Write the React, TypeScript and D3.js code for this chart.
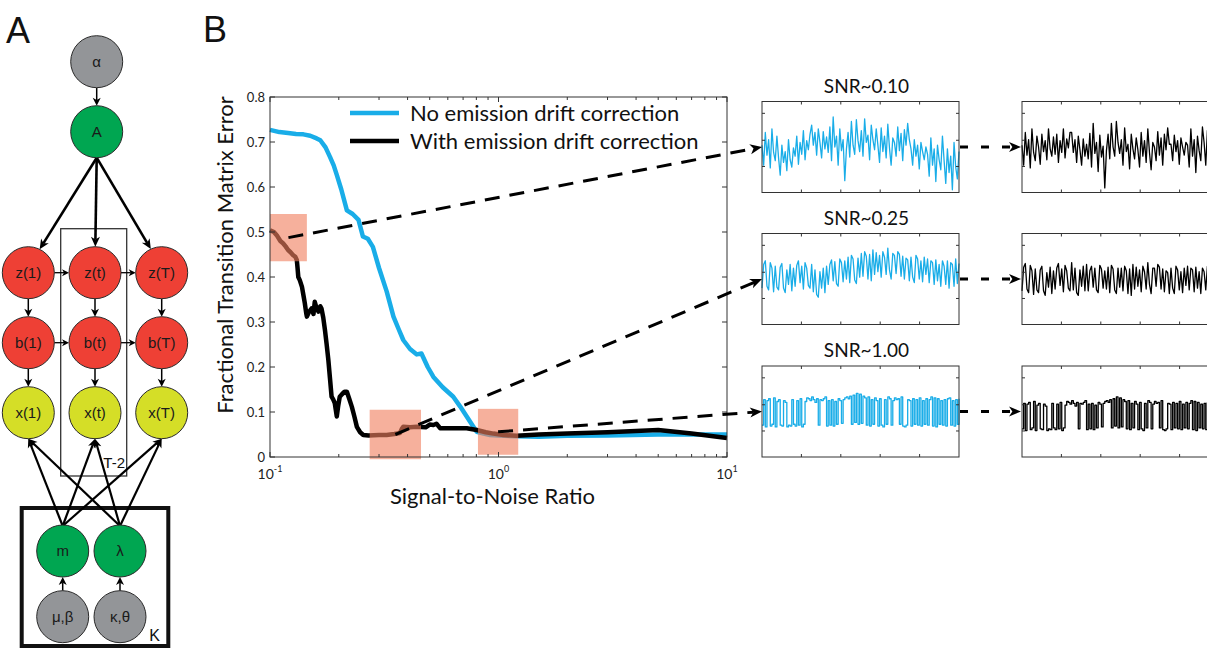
import React from 'react';
import * as d3 from 'd3';

// ---------- Panel B main chart data ----------
const blueSnr = [0.1, 0.11, 0.12, 0.13, 0.14, 0.15, 0.16, 0.166, 0.175, 0.183, 0.19, 0.196, 0.205, 0.217, 0.23, 0.244, 0.255, 0.268, 0.282, 0.3, 0.324, 0.347, 0.365, 0.383, 0.41, 0.439, 0.46, 0.49, 0.519, 0.57, 0.634, 0.68, 0.726, 0.77, 0.803, 0.86, 0.918, 1.0, 1.2, 1.5, 2.0, 3.0, 5.0, 7.0, 10];
const blueErr = [0.727, 0.722, 0.72, 0.718, 0.717, 0.714, 0.708, 0.704, 0.688, 0.667, 0.648, 0.627, 0.595, 0.548, 0.54, 0.527, 0.49, 0.485, 0.467, 0.42, 0.368, 0.312, 0.285, 0.26, 0.24, 0.228, 0.23, 0.2, 0.178, 0.155, 0.134, 0.112, 0.09, 0.07, 0.056, 0.052, 0.049, 0.048, 0.046, 0.045, 0.047, 0.048, 0.05, 0.05, 0.05];

const blackSnr = [0.1, 0.104, 0.107, 0.111, 0.114, 0.117, 0.12, 0.123, 0.126, 0.129, 0.131, 0.132, 0.133, 0.135, 0.138, 0.14, 0.142, 0.144, 0.145, 0.148, 0.152, 0.155, 0.157, 0.16, 0.163, 0.166, 0.168, 0.171, 0.174, 0.177, 0.18, 0.183, 0.186, 0.189, 0.192, 0.194, 0.196, 0.199, 0.202, 0.207, 0.212, 0.217, 0.222, 0.228, 0.234, 0.24, 0.248, 0.256, 0.27, 0.3, 0.324, 0.35, 0.37, 0.377, 0.383, 0.41, 0.439, 0.48, 0.5, 0.519, 0.535, 0.555, 0.65, 0.726, 0.803, 0.88, 0.95, 1.05, 1.2, 1.5, 2.0, 3.0, 5.0, 7.0, 10];
const blackErr = [0.504, 0.5, 0.493, 0.48, 0.475, 0.468, 0.46, 0.455, 0.449, 0.445, 0.438, 0.42, 0.4, 0.393, 0.378, 0.36, 0.342, 0.32, 0.312, 0.322, 0.33, 0.318, 0.345, 0.33, 0.323, 0.335, 0.33, 0.31, 0.282, 0.25, 0.216, 0.175, 0.134, 0.128, 0.12, 0.105, 0.09, 0.115, 0.134, 0.14, 0.145, 0.145, 0.13, 0.112, 0.09, 0.067, 0.055, 0.049, 0.048, 0.049, 0.049, 0.051, 0.053, 0.062, 0.067, 0.066, 0.067, 0.066, 0.072, 0.071, 0.074, 0.064, 0.064, 0.064, 0.06, 0.055, 0.052, 0.049, 0.047, 0.05, 0.052, 0.055, 0.06, 0.052, 0.042];

const yTicks = [0, 0.1, 0.2, 0.3, 0.4, 0.5, 0.6, 0.7, 0.8];
const xMajor = [0.1, 1, 10];
const xMajorExp = ['-1', '0', '1'];
const xMinor = [0.2, 0.3, 0.4, 0.5, 0.6, 0.7, 0.8, 0.9, 2, 3, 4, 5, 6, 7, 8, 9];

// highlighted SNR windows: [snrLo, snrHi, errLo, errHi]
const boxSnrLo = [0.1, 0.273, 0.813];
const boxSnrHi = [0.145, 0.458, 1.22];
const boxErrLo = [0.435, -0.005, 0.005];
const boxErrHi = [0.54, 0.105, 0.107];

const snrTitles = ['SNR~0.10', 'SNR~0.25', 'SNR~1.00'];
const legendLabels = ['No emission drift correction', 'With emission drift correction'];

// ---------- example traces (fraction of panel height) ----------
const trace1Raw = [
  0.52, 0.30, 0.66, 0.41, 0.58, 0.27, 0.70, 0.44, 0.35, 0.62,
  0.38, 0.19, 0.52, 0.33, 0.45, 0.24, 0.58, 0.36, 0.28, 0.49,
  0.40, 0.62, 0.31, 0.55, 0.42, 0.68, 0.36, 0.57, 0.47, 0.64,
  0.74, 0.52, 0.66, 0.41, 0.70, 0.55, 0.38, 0.67, 0.48, 0.61,
  0.44, 0.72, 0.35, 0.83, 0.50, 0.62, 0.30, 0.70, 0.46, 0.58,
  0.13, 0.48, 0.66, 0.39, 0.78, 0.52, 0.42, 0.80, 0.57, 0.45,
  0.68, 0.40, 0.81, 0.55, 0.63, 0.36, 0.74, 0.58, 0.47, 0.70,
  0.52, 0.33, 0.71, 0.45, 0.62, 0.38, 0.75, 0.49, 0.30, 0.60,
  0.55, 0.40, 0.72, 0.46, 0.65, 0.35, 0.69, 0.52, 0.76, 0.58,
  0.48, 0.30, 0.58, 0.40, 0.52, 0.26, 0.55, 0.45, 0.36, 0.50,
  0.42, 0.18, 0.60, 0.30, 0.48, 0.12, 0.52, 0.36, 0.25, 0.62,
  0.35, 0.10, 0.48, 0.22, 0.40, 0.03, 0.55, 0.28, 0.15, 0.45,
];
const trace1Fix = [
  0.52, 0.30, 0.66, 0.41, 0.58, 0.27, 0.70, 0.44, 0.35, 0.62,
  0.50, 0.31, 0.64, 0.45, 0.57, 0.36, 0.70, 0.48, 0.40, 0.61,
  0.42, 0.64, 0.33, 0.57, 0.44, 0.70, 0.38, 0.59, 0.49, 0.66,
  0.66, 0.44, 0.58, 0.33, 0.62, 0.47, 0.30, 0.59, 0.40, 0.53,
  0.37, 0.65, 0.28, 0.76, 0.43, 0.55, 0.23, 0.63, 0.39, 0.51,
  0.05, 0.46, 0.64, 0.37, 0.76, 0.50, 0.40, 0.78, 0.55, 0.43,
  0.58, 0.30, 0.71, 0.45, 0.53, 0.26, 0.64, 0.48, 0.37, 0.60,
  0.47, 0.28, 0.66, 0.40, 0.57, 0.33, 0.70, 0.44, 0.25, 0.55,
  0.50, 0.35, 0.67, 0.41, 0.60, 0.30, 0.64, 0.47, 0.71, 0.53,
  0.53, 0.35, 0.63, 0.45, 0.57, 0.31, 0.60, 0.50, 0.41, 0.55,
  0.52, 0.28, 0.70, 0.40, 0.58, 0.22, 0.62, 0.46, 0.35, 0.72,
  0.55, 0.30, 0.68, 0.42, 0.60, 0.23, 0.75, 0.48, 0.35, 0.65,
];
const trace2Raw = [
  0.40, 0.66, 0.70, 0.42, 0.38, 0.68, 0.62, 0.36, 0.64, 0.41,
  0.38, 0.63, 0.67, 0.40, 0.35, 0.60, 0.44, 0.66, 0.37, 0.62,
  0.42, 0.65, 0.70, 0.46, 0.64, 0.39, 0.68, 0.62, 0.43, 0.40,
  0.66, 0.36, 0.60, 0.33, 0.30, 0.58, 0.40, 0.62, 0.35, 0.64,
  0.44, 0.66, 0.71, 0.48, 0.69, 0.45, 0.42, 0.72, 0.68, 0.47,
  0.70, 0.50, 0.74, 0.46, 0.76, 0.72, 0.49, 0.45, 0.73, 0.52,
  0.78, 0.53, 0.80, 0.75, 0.50, 0.77, 0.48, 0.82, 0.55, 0.79,
  0.58, 0.76, 0.52, 0.80, 0.74, 0.55, 0.84, 0.60, 0.50, 0.78,
  0.76, 0.56, 0.80, 0.77, 0.53, 0.75, 0.50, 0.73, 0.71, 0.48,
  0.74, 0.52, 0.46, 0.76, 0.72, 0.50, 0.70, 0.47, 0.74, 0.55,
  0.72, 0.46, 0.70, 0.68, 0.44, 0.71, 0.48, 0.66, 0.42, 0.70,
  0.64, 0.44, 0.70, 0.40, 0.68, 0.66, 0.42, 0.72, 0.45, 0.67,
];
const trace2Fix = [
  0.37, 0.63, 0.67, 0.39, 0.35, 0.65, 0.59, 0.33, 0.61, 0.38,
  0.35, 0.60, 0.64, 0.37, 0.32, 0.57, 0.41, 0.63, 0.34, 0.59,
  0.39, 0.62, 0.67, 0.43, 0.61, 0.36, 0.65, 0.59, 0.40, 0.37,
  0.68, 0.38, 0.62, 0.35, 0.32, 0.60, 0.42, 0.64, 0.37, 0.66,
  0.37, 0.59, 0.64, 0.41, 0.62, 0.38, 0.35, 0.65, 0.61, 0.40,
  0.59, 0.39, 0.63, 0.35, 0.65, 0.61, 0.38, 0.34, 0.62, 0.41,
  0.62, 0.37, 0.64, 0.59, 0.34, 0.61, 0.32, 0.66, 0.39, 0.63,
  0.42, 0.60, 0.36, 0.64, 0.58, 0.39, 0.68, 0.44, 0.34, 0.62,
  0.62, 0.42, 0.66, 0.63, 0.39, 0.61, 0.36, 0.59, 0.57, 0.34,
  0.62, 0.40, 0.34, 0.64, 0.60, 0.38, 0.58, 0.35, 0.62, 0.43,
  0.64, 0.38, 0.62, 0.60, 0.36, 0.63, 0.40, 0.58, 0.34, 0.62,
  0.58, 0.38, 0.64, 0.34, 0.62, 0.60, 0.36, 0.66, 0.39, 0.61,
];
const trace3Raw = [
  0.35, 0.63, 0.33, 0.62, 0.64, 0.34, 0.36, 0.65, 0.33, 0.61,
  0.63, 0.35, 0.34, 0.62, 0.60, 0.33, 0.35, 0.34, 0.63, 0.36,
  0.34, 0.62, 0.35, 0.64, 0.33, 0.36, 0.61, 0.65, 0.64, 0.62,
  0.66, 0.63, 0.60, 0.64, 0.35, 0.63, 0.62, 0.64, 0.66, 0.34,
  0.62, 0.35, 0.63, 0.34, 0.61, 0.36, 0.64, 0.62, 0.37, 0.63,
  0.65, 0.66, 0.64, 0.67, 0.36, 0.68, 0.38, 0.70, 0.36, 0.69,
  0.37, 0.67, 0.65, 0.35, 0.66, 0.34, 0.63, 0.36, 0.65, 0.62,
  0.34, 0.64, 0.35, 0.33, 0.63, 0.36, 0.66, 0.64, 0.35, 0.62,
  0.65, 0.63, 0.64, 0.36, 0.66, 0.34, 0.33, 0.35, 0.63, 0.62,
  0.34, 0.64, 0.36, 0.63, 0.35, 0.65, 0.34, 0.62, 0.36, 0.64,
  0.35, 0.63, 0.66, 0.34, 0.65, 0.33, 0.64, 0.36, 0.62, 0.35,
  0.63, 0.34, 0.64, 0.65, 0.35, 0.62, 0.34, 0.63, 0.36, 0.64,
];
const trace3Fix = [
  0.31, 0.59, 0.29, 0.58, 0.60, 0.30, 0.32, 0.61, 0.29, 0.57,
  0.59, 0.31, 0.30, 0.58, 0.56, 0.29, 0.31, 0.30, 0.59, 0.32,
  0.30, 0.58, 0.31, 0.60, 0.29, 0.32, 0.57, 0.61, 0.60, 0.58,
  0.62, 0.59, 0.56, 0.60, 0.31, 0.59, 0.58, 0.60, 0.62, 0.30,
  0.58, 0.31, 0.59, 0.30, 0.57, 0.32, 0.60, 0.58, 0.33, 0.59,
  0.61, 0.62, 0.60, 0.63, 0.32, 0.64, 0.34, 0.66, 0.32, 0.65,
  0.33, 0.63, 0.61, 0.31, 0.62, 0.30, 0.59, 0.32, 0.61, 0.58,
  0.30, 0.60, 0.31, 0.29, 0.59, 0.32, 0.62, 0.60, 0.31, 0.58,
  0.61, 0.59, 0.60, 0.32, 0.62, 0.30, 0.29, 0.31, 0.59, 0.58,
  0.30, 0.60, 0.32, 0.59, 0.31, 0.61, 0.30, 0.58, 0.32, 0.60,
  0.31, 0.59, 0.62, 0.30, 0.61, 0.29, 0.60, 0.32, 0.58, 0.31,
  0.59, 0.30, 0.60, 0.61, 0.31, 0.58, 0.30, 0.59, 0.32, 0.60,
];
const rawTraces = [trace1Raw, trace2Raw, trace3Raw];
const fixTraces = [trace1Fix, trace2Fix, trace3Fix];
const panelXTicks = [0.2, 0.4, 0.6, 0.8];
const panelYTicks = [0.286, 0.574, 0.87];

// ---------- Panel A graphical model ----------
const chainCols = ['1', 't', 'T'];
const chainVars = ['z', 'b', 'x'];

const BLUE = '#19ADE8';
const SALMON = '#F08060';
const FONT = "Lato, 'Open Sans', sans-serif";
const AFONT = "'Liberation Sans', Arial, sans-serif";

function Arrow({ x1, y1, x2, y2, w = 1.5, head = 9, hw = 4, dash }: any) {
  const a = Math.atan2(y2 - y1, x2 - x1);
  const cut = head * 0.7;
  const ex = x2 - Math.cos(a) * cut;
  const ey = y2 - Math.sin(a) * cut;
  const deg = (a * 180) / Math.PI;
  return (
    <g>
      <line x1={x1} y1={y1} x2={ex} y2={ey} stroke="#000" strokeWidth={w} strokeDasharray={dash} />
      <path d={`M0,0 L${-head},${-hw} L${-head * 0.72},0 L${-head},${hw} Z`} transform={`translate(${x2},${y2}) rotate(${deg})`} fill="#000" />
    </g>
  );
}

function Node({ cx, cy, r, fill, label }: any) {
  return (
    <g>
      <circle cx={cx} cy={cy} r={r} fill={fill} stroke="#2a2a2a" strokeWidth={1} />
      <text x={cx} y={cy + 5} textAnchor="middle" fontFamily={AFONT} fontSize={15} fill="#1a1a1a">{label}</text>
    </g>
  );
}

function PanelA() {
  const R = 26;
  const colX = d3.scalePoint<string>().domain(chainCols).range([28.3, 161.7]);
  const rowY = d3.scalePoint<string>().domain(chainVars).range([272.7, 412.7]);
  const topX = 96.7;
  const yAlpha = 61.7, yA = 131.7;
  const mX = 62.7, lX = 120, yM = 551, yPrior = 616.7;
  const fills: any = { z: '#EE4035', b: '#EE4035', x: '#D5DE27' };
  const GREEN = '#00A651', GRAY = '#939598';
  const trim = (x1: number, y1: number, x2: number, y2: number, r1: number, r2: number) => {
    const d = Math.hypot(x2 - x1, y2 - y1);
    const ux = (x2 - x1) / d, uy = (y2 - y1) / d;
    return { x1: x1 + ux * r1, y1: y1 + uy * r1, x2: x2 - ux * r2, y2: y2 - uy * r2 };
  };
  return (
    <g>
      <text x={6} y={43} fontFamily={AFONT} fontSize={36} fill="#111">A</text>
      {/* plate T-2 */}
      <rect x={60.7} y={228.7} width={66} height={247.3} fill="none" stroke="#333" strokeWidth={1.3} />
      <text x={125} y={468} textAnchor="end" fontFamily={AFONT} fontSize={15} fill="#111">T-2</text>
      {/* plate K */}
      <rect x={21.7} y={508} width={146.6} height={138} fill="none" stroke="#111" strokeWidth={4} />
      <text x={160} y={641} textAnchor="end" fontFamily={AFONT} fontSize={16} fill="#111">K</text>
      {/* edges */}
      <Arrow x1={topX} y1={yAlpha + R} x2={topX} y2={yA - R} w={1.5} head={8} hw={4} />
      {chainCols.map((c) => {
        const t = trim(topX, yA, colX(c)!, rowY('z')!, R, R);
        return <Arrow key={'A' + c} x1={topX} y1={yA + R} x2={t.x2} y2={t.y2} w={2.6} head={10} hw={4.5} />;
      })}
      {chainVars.slice(0, 2).map((v) =>
        [chainCols[0], chainCols[1]].map((c, i) => (
          <Arrow key={'h' + v + c} x1={colX(c)! + R} y1={rowY(v)!} x2={colX(chainCols[i + 1])! - R} y2={rowY(v)!} w={1.3} head={7} hw={3.5} />
        ))
      )}
      {chainCols.map((c) =>
        [0, 1].map((i) => (
          <Arrow key={'v' + c + i} x1={colX(c)!} y1={rowY(chainVars[i])! + R} x2={colX(c)!} y2={rowY(chainVars[i + 1])! - R} w={1.5} head={8} hw={4} />
        ))
      )}
      {[mX, lX].map((sx) =>
        chainCols.map((c) => (
          <Arrow key={'e' + sx + c} x1={sx} y1={yM - R + 1} x2={colX(c)!} y2={rowY('x')! + R} w={2.2} head={9} hw={4} />
        ))
      )}
      <Arrow x1={mX} y1={yPrior - R} x2={mX} y2={yM + R} w={1.5} head={8} hw={4} />
      <Arrow x1={lX} y1={yPrior - R} x2={lX} y2={yM + R} w={1.5} head={8} hw={4} />
      {/* nodes */}
      <Node cx={topX} cy={yAlpha} r={R} fill={GRAY} label="α" />
      <Node cx={topX} cy={yA} r={R} fill={GREEN} label="A" />
      {chainVars.map((v) =>
        chainCols.map((c) => (
          <Node key={v + c} cx={colX(c)} cy={rowY(v)} r={R} fill={fills[v]} label={`${v}(${c})`} />
        ))
      )}
      <Node cx={mX} cy={yM} r={R} fill={GREEN} label="m" />
      <Node cx={lX} cy={yM} r={R} fill={GREEN} label="λ" />
      <Node cx={mX} cy={yPrior} r={R} fill={GRAY} label="μ,β" />
      <Node cx={lX} cy={yPrior} r={R} fill={GRAY} label="κ,θ" />
    </g>
  );
}

function TracePanel({ left, top, w, h, values, color, step }: any) {
  const xs = d3.scaleLinear().domain([0, values.length - 1]).range([left, left + w]);
  const ys = d3.scaleLinear().domain([0, 1]).range([top + h, top]);
  const line = d3.line<number>().x((_, i) => xs(i)).y((d) => ys(d));
  if (step) line.curve(d3.curveStepAfter);
  const fx = d3.scaleLinear().domain([0, 1]).range([left, left + w]);
  return (
    <g>
      <path d={line(values) || ''} fill="none" stroke={color} strokeWidth={1.3} strokeLinejoin="round" />
      <rect x={left} y={top} width={w} height={h} fill="none" stroke="#333" strokeWidth={1} />
      {panelXTicks.map((t) => (
        <g key={'x' + t}>
          <line x1={fx(t)} x2={fx(t)} y1={top} y2={top + 3} stroke="#333" />
          <line x1={fx(t)} x2={fx(t)} y1={top + h} y2={top + h - 3} stroke="#333" />
        </g>
      ))}
      {panelYTicks.map((t) => (
        <g key={'y' + t}>
          <line x1={left} x2={left + 3} y1={ys(t)} y2={ys(t)} stroke="#333" />
          <line x1={left + w} x2={left + w - 3} y1={ys(t)} y2={ys(t)} stroke="#333" />
        </g>
      ))}
    </g>
  );
}

export default function App() {
  const x = d3.scaleLog().domain([0.1, 10]).range([270, 727]);
  const y = d3.scaleLinear().domain([0, 0.8]).range([457, 97]);
  const curve = d3.line<[number, number]>().x((d) => x(d[0])).y((d) => y(d[1]));
  const bluePts = blueSnr.map((s, i) => [s, blueErr[i]] as [number, number]);
  const blackPts = blackSnr.map((s, i) => [s, blackErr[i]] as [number, number]);

  const panelW = 197, panelH = 91;
  const panelTops = [101.5, 233.5, 366];
  const blueLeft = 762, blackLeft = 1022;
  const x0 = x.range()[0], x1 = x.range()[1];
  const y0 = y.range()[0], y1 = y.range()[1];

  return (
    <svg width={1207} height={648} style={{ position: 'absolute', left: 0, top: 0, background: '#fff' }} fontFamily={FONT}>
      <rect width={1207} height={648} fill="#fff" />
      <PanelA />
      <text x={203} y={42} fontFamily={AFONT} fontSize={36} fill="#111">B</text>

      {/* main curves */}
      <path d={curve(bluePts) || ''} fill="none" stroke={BLUE} strokeWidth={4.5} strokeLinejoin="round" />
      <path d={curve(blackPts) || ''} fill="none" stroke="#000" strokeWidth={4.5} strokeLinejoin="round" />

      {/* highlighted windows */}
      {boxSnrLo.map((lo, i) => (
        <rect key={'b' + i} x={x(lo)} y={y(boxErrHi[i])} width={x(boxSnrHi[i]) - x(lo)} height={y(boxErrLo[i]) - y(boxErrHi[i])} fill={SALMON} fillOpacity={0.62} />
      ))}

      {/* axes box */}
      <rect x={x0} y={y1} width={x1 - x0} height={y0 - y1} fill="none" stroke="#333" strokeWidth={1} />
      {yTicks.map((t) => (
        <g key={'yt' + t}>
          <line x1={x0} x2={x0 + 5} y1={y(t)} y2={y(t)} stroke="#333" />
          <line x1={x1} x2={x1 - 5} y1={y(t)} y2={y(t)} stroke="#333" />
          <text x={x0 - 5} y={y(t) + 4.5} textAnchor="end" fontSize={13} fill="#222">{t === 0 ? '0' : t.toFixed(1)}</text>
        </g>
      ))}
      {xMajor.map((t, i) => (
        <g key={'xt' + t}>
          <line x1={x(t)} x2={x(t)} y1={y0} y2={y0 - 5} stroke="#333" />
          <line x1={x(t)} x2={x(t)} y1={y1} y2={y1 + 5} stroke="#333" />
          <text x={x(t)} y={479} textAnchor="middle" fontSize={14} fill="#222">
            10<tspan dy={-7} fontSize={9}>{xMajorExp[i]}</tspan>
          </text>
        </g>
      ))}
      {xMinor.map((t) => (
        <g key={'xm' + t}>
          <line x1={x(t)} x2={x(t)} y1={y0} y2={y0 - 3} stroke="#333" />
          <line x1={x(t)} x2={x(t)} y1={y1} y2={y1 + 3} stroke="#333" />
        </g>
      ))}
      <text x={(x0 + x1) / 2 - 6} y={504} textAnchor="middle" fontSize={22} fill="#111">Signal-to-Noise Ratio</text>
      <text transform={`translate(233,255) rotate(-90)`} textAnchor="middle" fontSize={22} fill="#111">Fractional Transition Matrix Error</text>

      {/* legend */}
      {legendLabels.map((lab, i) => (
        <g key={lab}>
          <line x1={350} x2={399} y1={113 + i * 28} y2={113 + i * 28} stroke={i === 0 ? BLUE : '#000'} strokeWidth={4.5} />
          <text x={410} y={121 + i * 28} fontSize={22} fill="#111">{lab}</text>
        </g>
      ))}

      {/* trace panels */}
      {panelTops.map((top, i) => (
        <g key={'p' + i}>
          <text x={blueLeft + panelW / 2 + 6} y={top - 9} textAnchor="middle" fontSize={19} fill="#111">{snrTitles[i]}</text>
          <TracePanel left={blueLeft} top={top} w={panelW} h={panelH} values={rawTraces[i]} color={BLUE} step={i === 2} />
          <TracePanel left={blackLeft} top={top} w={panelW} h={panelH} values={fixTraces[i]} color="#000" step={i === 2} />
          <Arrow x1={blueLeft + panelW + 1} y1={top + panelH / 2} x2={blackLeft - 1} y2={top + panelH / 2} w={3} head={12} hw={5} dash="8,13" />
        </g>
      ))}

      {/* dashed connectors from windows to example traces */}
      {boxSnrLo.map((lo, i) => {
        const cx = (x(lo) + x(boxSnrHi[i])) / 2;
        const cy = (y(boxErrLo[i]) + y(boxErrHi[i])) / 2;
        return <Arrow key={'c' + i} x1={cx} y1={cy} x2={blueLeft} y2={panelTops[i] + panelH / 2} w={3} head={12} hw={5} dash="15,10" />;
      })}
    </svg>
  );
}
